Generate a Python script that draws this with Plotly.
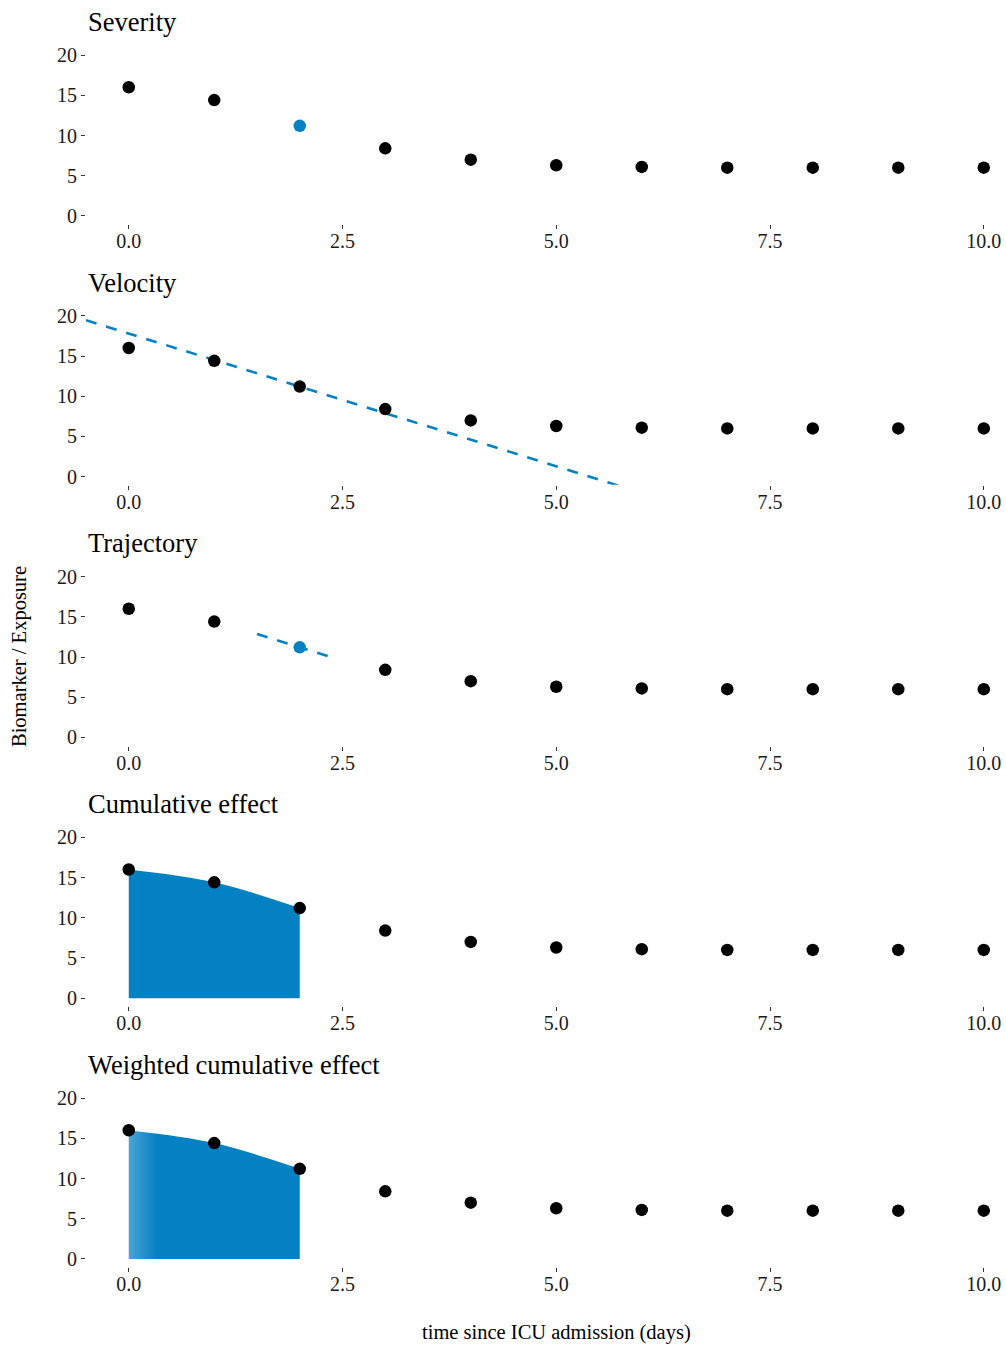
import plotly.graph_objects as go

# ---- data -------------------------------------------------------------
days = [0, 1, 2, 3, 4, 5, 6, 7, 8, 9, 10]
biomarker = [16.0, 14.4, 11.2, 8.4, 7.0, 6.3, 6.1, 6.0, 6.0, 6.0, 6.0]

panel_titles = ["Severity", "Velocity", "Trajectory",
                "Cumulative effect", "Weighted cumulative effect"]

focus_day = 2                      # highlighted time point
velocity_slope = -3.3              # tangent slope at focus_day
velocity_span = [-0.5, 6.0]        # extent of the full tangent line
trajectory_span = [1.5, 2.4]       # extent of the local tangent segment
cumulative_days = [0, 1, 2]        # window integrated for cumulative panels

x_ticks = [0, 2.5, 5, 7.5, 10]
x_tick_text = ["0.0", "2.5", "5.0", "7.5", "10.0"]
y_ticks = [0, 5, 10, 15, 20]

# ---- styling ----------------------------------------------------------
BLUE = "#0381C3"
FONT = "Liberation Serif"
W, H = 1006, 1345
PANEL_TOP0 = 47
PANEL_STEP = 260.75
PANEL_H = 177
X_LEFT_PX = 86

focus_value = biomarker[days.index(focus_day)]


def tangent(xs):
    return [focus_value + velocity_slope * (x - focus_day) for x in xs]


fig = go.Figure()
layout = {}
annotations = []

for i, title in enumerate(panel_titles):
    n = i + 1
    xa = "x" if n == 1 else f"x{n}"
    ya = "y" if n == 1 else f"y{n}"
    top = PANEL_TOP0 + PANEL_STEP * i
    bottom = top + PANEL_H

    layout[f"xaxis{'' if n == 1 else n}"] = dict(
        domain=[X_LEFT_PX / W, 1], range=[-0.5, 10.26], anchor=ya,
        tickvals=x_ticks, ticktext=x_tick_text,
        ticks="outside", ticklen=4, tickwidth=1.2, tickcolor="#333333",
        ticklabelstandoff=-5,
        showgrid=False, zeroline=False, showline=False,
        tickfont=dict(family=FONT, size=20, color="#1a1a1a"),
    )
    layout[f"yaxis{'' if n == 1 else n}"] = dict(
        domain=[1 - bottom / H, 1 - top / H], range=[-1, 21], anchor=xa,
        tickvals=y_ticks, ticks="outside", ticklen=4, tickwidth=1.2,
        tickcolor="#333333",
        showgrid=False, zeroline=False, showline=False,
        tickfont=dict(family=FONT, size=20, color="#1a1a1a"),
    )
    annotations.append(dict(
        text=title, xref="paper", yref="paper",
        x=86 / W, y=1 - (top - 25) / H, xanchor="left", yanchor="middle",
        showarrow=False, font=dict(family=FONT, size=26.5, color="black"),
    ))

    # Area under the curve for the cumulative panels
    if title in ("Cumulative effect", "Weighted cumulative effect"):
        cum_vals = [biomarker[days.index(d)] for d in cumulative_days]
        area = dict(
            x=cumulative_days, y=cum_vals, mode="lines",
            line=dict(width=0, shape="spline", color=BLUE),
            fill="tozeroy", hoverinfo="skip", showlegend=False,
            xaxis=xa, yaxis=ya,
        )
        if title == "Weighted cumulative effect":
            area["fillgradient"] = dict(
                type="horizontal",
                colorscale=[[0, "#4aa3d6"], [0.17, BLUE], [1, BLUE]],
            )
        else:
            area["fillcolor"] = BLUE
        fig.add_trace(go.Scatter(**area))

    # Tangent lines
    if title == "Velocity":
        fig.add_trace(go.Scatter(
            x=velocity_span, y=tangent(velocity_span), mode="lines",
            line=dict(color=BLUE, width=2.6, dash="11px,10px"),
            showlegend=False, xaxis=xa, yaxis=ya,
        ))
    if title == "Trajectory":
        fig.add_trace(go.Scatter(
            x=trajectory_span, y=tangent(trajectory_span), mode="lines",
            line=dict(color=BLUE, width=2.6, dash="11px,10px"),
            showlegend=False, xaxis=xa, yaxis=ya,
        ))

    # Observed points
    colors = ["black"] * len(days)
    if title in ("Severity", "Trajectory"):
        colors[days.index(focus_day)] = BLUE
    fig.add_trace(go.Scatter(
        x=days, y=biomarker, mode="markers",
        marker=dict(color=colors, size=12.5, line=dict(width=0)),
        showlegend=False, xaxis=xa, yaxis=ya, cliponaxis=False,
    ))

annotations.append(dict(
    text="Biomarker / Exposure", xref="paper", yref="paper",
    x=20 / W, y=1 - 657 / H, xanchor="center", yanchor="middle",
    textangle=-90, showarrow=False,
    font=dict(family=FONT, size=20.5, color="black"),
))
annotations.append(dict(
    text="time since ICU admission (days)", xref="paper", yref="paper",
    x=556 / W, y=1 - 1332 / H, xanchor="center", yanchor="middle",
    showarrow=False, font=dict(family=FONT, size=20.5, color="black"),
))

fig.update_layout(
    width=W, height=H,
    margin=dict(l=0, r=0, t=0, b=0, autoexpand=False),
    plot_bgcolor="white", paper_bgcolor="white",
    annotations=annotations,
    **layout,
)

fig.write_html("out.html")
